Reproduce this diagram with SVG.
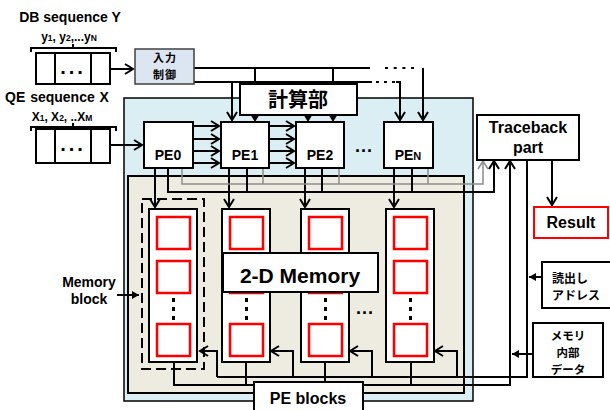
<svg xmlns="http://www.w3.org/2000/svg" width="610" height="410" viewBox="0 0 610 410">
<defs>
<style>
.ln{stroke:#000;stroke-width:2;fill:none}
.gl{stroke:#8c8c8c;stroke-width:1.5;fill:none}
.box{fill:#fff;stroke:#000;stroke-width:2}
.red{fill:#fff;stroke:#ff0000;stroke-width:2.5}
.t{font-family:"Liberation Sans",Arial,sans-serif;font-weight:bold;fill:#000}
.j{font-family:"Noto Sans CJK JP","Noto Sans CJK SC",sans-serif;font-weight:bold;fill:#000}
.dot{fill:#000}
</style>
<marker id="ah" markerUnits="userSpaceOnUse" markerWidth="14" markerHeight="14" viewBox="-11 -7 14 14" refX="0" refY="0" orient="auto">
<path d="M-8,-5 L0,0 L-8,5" fill="none" stroke="#000" stroke-width="2"/>
</marker>
<marker id="gh" markerUnits="userSpaceOnUse" markerWidth="14" markerHeight="14" viewBox="-11 -7 14 14" refX="0" refY="0" orient="auto">
<path d="M-8,-5 L0,0 L-8,5" fill="none" stroke="#8c8c8c" stroke-width="1.5"/>
</marker>
<marker id="fa" markerUnits="userSpaceOnUse" markerWidth="10" markerHeight="10" viewBox="-8 -5 10 10" refX="0" refY="0" orient="auto">
<path d="M-7,-4 L0,0 L-7,4 z" fill="#000"/>
</marker>
</defs>

<!-- containers -->
<rect id="pe-area" x="124" y="98" width="349" height="303" fill="#dbeef4" stroke="#000" stroke-width="1.5"/>
<rect id="mem-area" x="128" y="176" width="336" height="217" fill="#eeece1" stroke="#000" stroke-width="2"/>

<!-- connectors -->
<g id="connectors">
  <path class="ln" d="M31,52 V48 H116 V52 M73,48 V44" stroke-width="1.8"/>
  <path class="ln" d="M31,131 V127 H116 V131 M73,127 V123" stroke-width="1.8"/>
  <path class="ln" d="M110,69 H133" marker-end="url(#ah)"/>
  <path class="ln" d="M110,145 H142" marker-end="url(#ah)"/>
  <path class="ln" d="M194,68 H370"/>
  <path class="ln" d="M194,82 H372"/>
  <path class="ln" d="M385,68 H414" stroke-dasharray="3 5.7" stroke-width="3"/>
  <path class="ln" d="M376,82 H396" stroke-dasharray="3 5" stroke-width="3"/>
  <path class="ln" d="M396,82 H400 V120" marker-end="url(#ah)"/>
  <path class="ln" d="M423,68 V120" marker-end="url(#ah)"/>
  <path class="ln" d="M255,68 V120" marker-end="url(#ah)"/>
  <path class="ln" d="M333,68 V120" marker-end="url(#ah)"/>
  <path class="ln" d="M232,82 V120" marker-end="url(#ah)"/>
  <path class="ln" d="M308,82 V120" marker-end="url(#ah)"/>
  <path class="ln" d="M193,126 H219" marker-end="url(#ah)"/>
  <path class="ln" d="M193,139 H219" marker-end="url(#ah)"/>
  <path class="ln" d="M193,151 H219" marker-end="url(#ah)"/>
  <path class="ln" d="M193,163 H219" marker-end="url(#ah)"/>
  <path class="ln" d="M269,126 H294" marker-end="url(#ah)"/>
  <path class="ln" d="M269,139 H294" marker-end="url(#ah)"/>
  <path class="ln" d="M269,151 H294" marker-end="url(#ah)"/>
  <path class="ln" d="M269,163 H294" marker-end="url(#ah)"/>
  <path class="ln" d="M155,168 V207" marker-end="url(#ah)"/>
  <path class="ln" d="M229,168 V207" marker-end="url(#ah)"/>
  <path class="ln" d="M305,168 V207" marker-end="url(#ah)"/>
  <path class="ln" d="M394,168 V207" marker-end="url(#ah)"/>
  <path class="gl" d="M182,168 V184 H483 V161" marker-end="url(#gh)"/>
  <path class="gl" d="M263,168 V184 M339,168 V184 M428,168 V184"/>
  <path class="ln" d="M168,168 V192 H494 V161" marker-end="url(#ah)"/>
  <path class="ln" d="M247,168 V192 M322,168 V192 M412,168 V192"/>
  <path class="ln" d="M527,160 V377 H217"/>
  <path class="ln" d="M217,377 V351 H200" marker-end="url(#ah)"/>
  <path class="ln" d="M293,377 V351 H271" marker-end="url(#ah)"/>
  <path class="ln" d="M372,377 V351 H350" marker-end="url(#ah)"/>
  <path class="ln" d="M457,377 V351 H435" marker-end="url(#ah)"/>
  <path class="ln" d="M174,362 V385 H510 V161" marker-end="url(#ah)"/>
  <path class="ln" d="M246,362 V385 M325,362 V385 M411,362 V385"/>
  <path class="ln" d="M552,160 V205" marker-end="url(#ah)"/>
  <path class="ln" d="M542,277 H529" stroke-width="1.8" marker-end="url(#fa)"/>
  <path class="ln" d="M533,354 H512" stroke-width="1.8" marker-end="url(#fa)"/>
  <path class="ln" d="M117,295 H139" stroke-width="1.8" marker-end="url(#fa)"/>
</g>

<g id="seqY">
  <text class="t" x="70" y="22" font-size="14" text-anchor="middle">DB sequence Y</text>
  <text class="t" x="69" y="41" font-size="12" text-anchor="middle">y<tspan font-size="8.5">1</tspan>, y<tspan font-size="8.5">2</tspan>,...y<tspan font-size="8.5">N</tspan></text>
  <rect class="box" x="36" y="53" width="74" height="31" stroke-width="1.5"/>
  <path class="ln" d="M55,53 V84 M91,53 V84" stroke-width="1.5"/>
  <text class="t" x="73" y="74" font-size="20" text-anchor="middle" letter-spacing="3">...</text>
</g>

<g id="seqX">
  <text class="t" x="57" y="102" font-size="14" text-anchor="middle" word-spacing="1">QE sequence X</text>
  <text class="t" x="62" y="121" font-size="12" text-anchor="middle">X<tspan font-size="8.5">1</tspan>, X<tspan font-size="8.5">2</tspan>, ..X<tspan font-size="8.5">M</tspan></text>
  <rect class="box" x="36" y="129" width="74" height="34" stroke-width="1.5"/>
  <path class="ln" d="M55,129 V163 M91,129 V163" stroke-width="1.5"/>
  <text class="t" x="73" y="151" font-size="20" text-anchor="middle" letter-spacing="3">...</text>
</g>

<g id="input-ctrl">
  <rect x="135" y="49" width="59" height="35" fill="#dce6f2" stroke="#404040" stroke-width="1.5"/>
  <text class="j" x="165" y="62" font-size="11" text-anchor="middle" letter-spacing="1">入力</text>
  <text class="j" x="165" y="79" font-size="11" text-anchor="middle" letter-spacing="1">制御</text>
</g>

<g id="compute">
  <rect class="box" x="240" y="84" width="117" height="31" stroke-width="1.5"/>
  <text class="j" x="298" y="107" font-size="20" text-anchor="middle">計算部</text>
</g>

<g id="pe0">
  <rect class="box" x="144" y="122" width="49" height="46"/>
  <text class="t" x="168" y="160" font-size="14" text-anchor="middle">PE0</text>
</g>
<g id="pe1">
  <rect class="box" x="221" y="122" width="48" height="46"/>
  <text class="t" x="245" y="160" font-size="14" text-anchor="middle">PE1</text>
</g>
<g id="pe2">
  <rect class="box" x="296" y="122" width="48" height="46"/>
  <text class="t" x="320" y="160" font-size="14" text-anchor="middle">PE2</text>
</g>
<text class="t" x="364" y="152" font-size="18" text-anchor="middle" letter-spacing="1">...</text>
<g id="pen">
  <rect class="box" x="384" y="122" width="49" height="46"/>
  <text class="t" x="408" y="160" font-size="14" text-anchor="middle">PE<tspan font-size="11">N</tspan></text>
</g>

<g id="traceback">
  <rect class="box" x="477" y="115" width="102" height="45"/>
  <text class="t" x="528" y="133" font-size="16" text-anchor="middle">Traceback</text>
  <text class="t" x="528" y="153" font-size="16" text-anchor="middle">part</text>
</g>

<g id="result">
  <rect x="534" y="207" width="74" height="31" fill="#fff" stroke="#ff0000" stroke-width="2"/>
  <text class="t" x="571" y="228" font-size="16" text-anchor="middle">Result</text>
</g>

<g id="read-addr">
  <rect class="box" x="542" y="262" width="72" height="46"/>
  <text class="j" x="552" y="283" font-size="12">読出し</text>
  <text class="j" x="552" y="300" font-size="12">アドレス</text>
</g>

<g id="mem-data">
  <rect class="box" x="533" y="323" width="70" height="54"/>
  <text class="j" x="568" y="340" font-size="11.5" text-anchor="middle">メモリ</text>
  <text class="j" x="568" y="357" font-size="11.5" text-anchor="middle">内部</text>
  <text class="j" x="568" y="374" font-size="11.5" text-anchor="middle">データ</text>
</g>

<g id="memory-block-label">
  <text class="t" x="89" y="287" font-size="14" text-anchor="middle">Memory</text>
  <text class="t" x="89" y="304" font-size="14" text-anchor="middle">block</text>
  <rect x="142" y="199" width="62" height="170" fill="none" stroke="#000" stroke-width="2" stroke-dasharray="10 5"/>
</g>

<g id="mem1">
  <rect class="box" x="149" y="209" width="48" height="153"/>
  <rect class="red" x="157" y="217" width="33" height="32"/>
  <rect class="red" x="157" y="261" width="33" height="32"/>
  <rect class="dot" x="172" y="298" width="3" height="4"/>
  <rect class="dot" x="172" y="307" width="3" height="4"/>
  <rect class="dot" x="172" y="316" width="3" height="4"/>
  <rect class="red" x="157" y="324" width="33" height="32"/>
</g>
<g id="mem2">
  <rect class="box" x="222" y="209" width="48" height="153"/>
  <rect class="red" x="230" y="217" width="33" height="32"/>
  <rect class="red" x="230" y="261" width="33" height="32"/>
  <rect class="dot" x="245" y="298" width="3" height="4"/>
  <rect class="dot" x="245" y="307" width="3" height="4"/>
  <rect class="dot" x="245" y="316" width="3" height="4"/>
  <rect class="red" x="230" y="324" width="33" height="32"/>
</g>
<g id="mem3">
  <rect class="box" x="301" y="209" width="48" height="153"/>
  <rect class="red" x="309" y="217" width="33" height="32"/>
  <rect class="red" x="309" y="261" width="33" height="32"/>
  <rect class="dot" x="324" y="298" width="3" height="4"/>
  <rect class="dot" x="324" y="307" width="3" height="4"/>
  <rect class="dot" x="324" y="316" width="3" height="4"/>
  <rect class="red" x="309" y="324" width="33" height="32"/>
</g>
<text class="t" x="365" y="314" font-size="18" text-anchor="middle" letter-spacing="1">...</text>
<g id="memN">
  <rect class="box" x="386" y="209" width="48" height="153"/>
  <rect class="red" x="394" y="217" width="33" height="32"/>
  <rect class="red" x="394" y="261" width="33" height="32"/>
  <rect class="dot" x="409" y="298" width="3" height="4"/>
  <rect class="dot" x="409" y="307" width="3" height="4"/>
  <rect class="dot" x="409" y="316" width="3" height="4"/>
  <rect class="red" x="394" y="324" width="33" height="32"/>
</g>

<g id="memory-2d">
  <rect class="box" x="223" y="253" width="155" height="39"/>
  <text class="t" x="300" y="283" font-size="21" text-anchor="middle">2-D Memory</text>
</g>

<g id="pe-blocks">
  <rect class="box" x="254" y="382" width="109" height="36"/>
  <text class="t" x="308" y="404" font-size="16" text-anchor="middle">PE blocks</text>
</g>
</svg>
